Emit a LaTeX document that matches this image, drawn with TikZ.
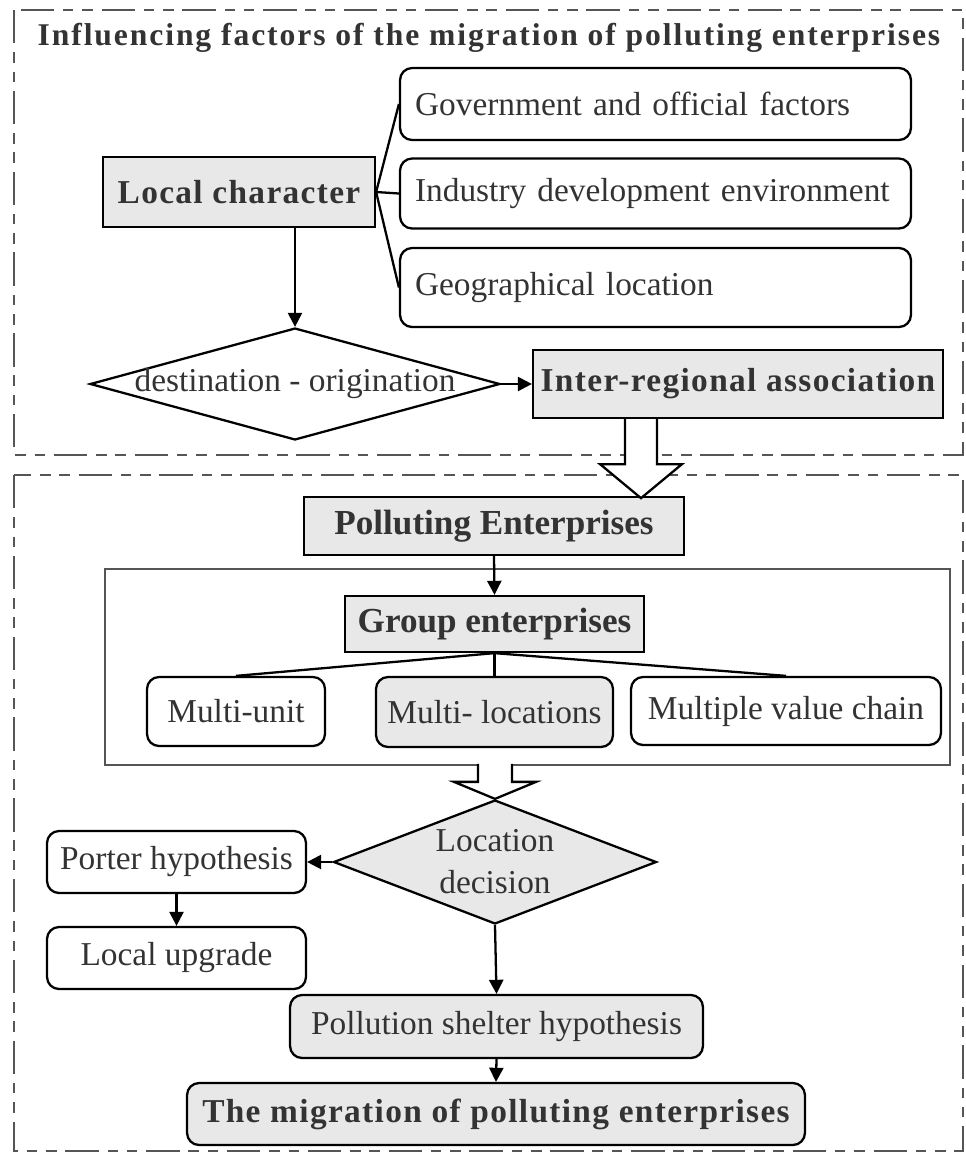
\documentclass[tikz,border=0pt]{standalone}
\usepackage{fontspec}
\setmainfont{Liberation Serif}
\newfontfamily\spacedfont[LetterSpace=4]{Liberation Serif}
\newfontfamily\titlefont[LetterSpace=6]{Liberation Serif}
\usepackage{tikz}
\usetikzlibrary{shapes.geometric,arrows.meta,calc,positioning}
\definecolor{boxgray}{HTML}{E8E8E8}
\definecolor{inkgray}{HTML}{333333}
\definecolor{framegray}{HTML}{555555}
\newcommand{\boxfont}{\fontsize{19}{23}\selectfont}
\tikzset{
    sqbox/.style={draw, fill=boxgray, line width=1.3pt, inner sep=0pt, text=inkgray, font=\spacedfont\bfseries\boxfont},
    roundbox/.style={draw, rounded corners=0.24cm, line width=1.3pt, inner sep=0pt, text=inkgray, font=\boxfont},
    factorbox/.style={roundbox, text width=9.62cm, align=left, inner xsep=0.3cm, minimum width=10.22cm},
    decision/.style={diamond, draw, line width=1.3pt, inner sep=0pt},
    link/.style={line width=1.3pt},
    arr/.style={-{Triangle[length=8pt,width=8pt]}, line width=1.3pt},
    hollow/.style={draw, fill=white, line width=1.3pt, line join=miter},
    dashframe/.style={draw=framegray, line width=1.2pt, dash pattern=on 19pt off 5pt on 6pt off 5pt on 6pt off 5pt}
}

\begin{document}
\begin{tikzpicture}[x=0.02cm, y=-0.02cm]
    \useasboundingbox (0,0) rectangle (966,1154);

    % Dashed frames
    \draw[dashframe] (14,10) rectangle (963,455);
    \draw[dashframe] (14,475) rectangle (963,1151);

    % Upper part: influencing factors
    \node[text=inkgray, font=\titlefont\bfseries\fontsize{18}{21}\selectfont] (title) at (489,38)
        {Influencing factors of the migration of polluting enterprises};

    \node[sqbox, minimum width=5.44cm, minimum height=1.4cm] (local) at (239,192) {Local character};

    \node[factorbox, minimum height=1.44cm] (gov) at (655.5,104) {Government and official factors};
    \node[factorbox, minimum height=1.4cm] (ind) at (655.5,193.5) {Industry development environment};
    \node[factorbox, minimum height=1.58cm] (geo) at (655.5,287.5) {Geographical location};

    \node[decision, minimum width=8.2cm, minimum height=2.24cm,
          label={[text=inkgray, font=\boxfont]center:destination - origination}] (dest) at (295,384) {};
    \node[sqbox, minimum width=8.2cm, minimum height=1.36cm] (inter) at (738,384) {Inter-regional association};

    \draw[link] (local.east) -- (gov.west);
    \draw[link] (local.east) -- (ind.west);
    \draw[link] (local.east) -- (geo.west);
    \draw[arr] (local.south -| dest.north) -- (dest.north);
    \draw[arr] (dest.east) -- (inter.west);

    % Lower part: enterprises and location decision
    \node[sqbox, font=\bfseries\fontsize{20}{23}\selectfont, minimum width=7.6cm, minimum height=1.16cm] (pe) at (494,526) {Polluting Enterprises};

    \draw[draw=framegray, line width=1.3pt] (105,569) rectangle (950,765);
    \node[sqbox, font=\bfseries\fontsize{20}{23}\selectfont, minimum width=5.98cm, minimum height=1.12cm] (group) at (494.5,624) {Group enterprises};

    \node[roundbox, minimum width=3.56cm, minimum height=1.38cm] (unit) at (236,711.5) {Multi-unit};
    \node[roundbox, fill=boxgray, minimum width=4.74cm, minimum height=1.4cm] (locs) at (494.5,712) {Multi- locations};
    \node[roundbox, minimum width=6.2cm, minimum height=1.36cm] (chain) at (786,711) {Multiple value chain};

    \draw[arr] (pe.south) -- (group.north);
    \draw[link] (group.south) -- (unit.north);
    \draw[link] (group.south) -- (locs.north);
    \draw[link] (group.south) -- (chain.north);

    \node[decision, fill=boxgray, minimum width=6.46cm, minimum height=2.48cm,
          label={[text=inkgray, font=\fontsize{19}{24}\selectfont, align=center]center:Location\\decision}] (loc) at (495,862) {};

    \node[roundbox, minimum width=5.18cm, minimum height=1.24cm] (porter) at (176.5,862) {Porter hypothesis};
    \node[roundbox, minimum width=5.18cm, minimum height=1.24cm] (upgrade) at (176.5,958) {Local upgrade};
    \node[roundbox, fill=boxgray, minimum width=8.26cm, minimum height=1.26cm] (shelter) at (496.5,1026.5) {Pollution shelter hypothesis};
    \node[roundbox, fill=boxgray, font=\spacedfont\bfseries\boxfont, minimum width=12.36cm, minimum height=1.24cm] (migr) at (496,1114) {The migration of polluting enterprises};

    \draw[arr] (loc.west) -- (porter.east);
    \draw[arr] (porter.south) -- (upgrade.north);
    \draw[arr] (loc.south) -- (shelter.north);
    \draw[arr] (shelter.south) -- (migr.north);

    % Hollow arrows
    \draw[hollow] ($(inter.south)+(-113,0)$) -- ++(0,45) -- ++(-25,0) -- ++(41,34) -- ++(41,-34) -- ++(-25,0) -- ++(0,-45);
    \draw[hollow] ($(loc.north)+(-17,-35)$) -- ++(0,18) -- ++(-24,0) -- ++(41,17) -- ++(41,-17) -- ++(-24,0) -- ++(0,-18);

\end{tikzpicture}
\end{document}
